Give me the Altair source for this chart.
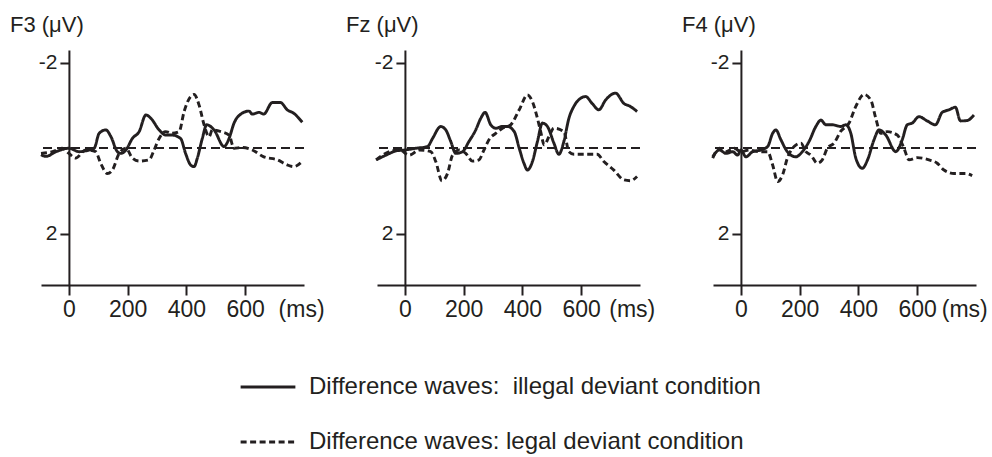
import altair as alt
import pandas as pd

INK = "#231f20"
FONT = "Liberation Sans"

panels = ["F3", "Fz", "F4"]
titles = ["F3 (μV)", "Fz (μV)", "F4 (μV)"]
conds = ["Difference waves:\u00a0 illegal deviant condition",
         "Difference waves: legal deviant condition"]

# F3
f3_ill_t = [-95, -78, -44, 0, 35, 69, 86, 103, 126, 143, 165, 177, 194, 216, 239, 262, 279, 307, 329, 350,
            380, 397, 414, 426, 437, 454, 469, 494, 528, 545, 562, 585, 613, 624, 647, 663, 692, 720, 743, 765, 794]
f3_ill_v = [0.15, 0.19, 0.08, 0, 0.08, 0.04, 0, -0.35, -0.43, -0.27, 0.08, 0.12, 0.04, -0.23, -0.39, -0.78, -0.70,
            -0.43, -0.31, -0.31, -0.23, 0.12, 0.39, 0.43, 0.23, -0.23, -0.55, -0.43, -0.04, -0.23, -0.59, -0.80,
            -0.87, -0.80, -0.84, -0.80, -1.07, -1.07, -0.90, -0.82, -0.61]
f3_leg_t = [-95, -56, -23, 0, 23, 57, 91, 108, 131, 148, 171, 194, 216, 239, 273, 290, 307, 329, 350, 375, 392,
            414, 426, 443, 460, 477, 488, 517, 545, 562, 590, 624, 663, 709, 743, 765, 794]
f3_leg_v = [0.12, 0.08, 0, 0.12, 0.23, 0.04, 0.08, 0.35, 0.59, 0.51, 0.12, 0, 0.23, 0.30, 0.27, 0.04, -0.23,
            -0.39, -0.35, -0.39, -0.86, -1.21, -1.26, -1.01, -0.55, -0.27, -0.43, -0.39, -0.31, 0, -0.02, 0.04,
            0.20, 0.27, 0.39, 0.43, 0.31]
# Fz
fz_ill_t = [-98, -64, -30, 0, 37, 77, 94, 122, 139, 156, 173, 196, 218, 241, 258, 273, 292, 309, 332, 349, 372,
            389, 405, 417, 434, 451, 468, 485, 507, 524, 541, 558, 575, 598, 615, 637, 660, 683, 717, 745, 767, 790]
fz_ill_v = [0.27, 0.16, 0.06, 0.04, 0, -0.04, -0.23, -0.51, -0.43, -0.16, 0.12, 0.08, -0.16, -0.43, -0.70, -0.84,
            -0.55, -0.47, -0.51, -0.51, -0.39, 0, 0.35, 0.51, 0.31, -0.16, -0.59, -0.51, -0.12, 0.14, -0.16, -0.70,
            -0.98, -1.17, -1.21, -1.05, -0.90, -1.13, -1.29, -1.05, -0.98, -0.86]
fz_leg_t = [-98, -53, -19, 15, 49, 88, 105, 126, 145, 162, 184, 207, 230, 252, 269, 286, 309, 332, 360, 389, 417,
            434, 451, 462, 474, 490, 507, 541, 558, 575, 620, 654, 677, 711, 745, 767, 790]
fz_leg_v = [0.27, 0.08, 0.04, 0.16, 0.04, 0.08, 0.31, 0.76, 0.59, 0.16, 0.04, 0.12, 0.30, 0.27, 0.04, -0.20,
            -0.35, -0.47, -0.55, -0.90, -1.25, -1.09, -0.70, -0.39, -0.08, -0.27, -0.47, -0.39, 0.08, 0.14, 0.14,
            0.14, 0.31, 0.51, 0.74, 0.76, 0.66]
# F4
f4_ill_t = [-96, -73, -51, -28, -11, 0, 17, 40, 68, 91, 108, 119, 136, 158, 187, 209, 232, 255, 272, 289, 311,
            340, 357, 374, 391, 413, 431, 453, 470, 493, 527, 549, 566, 583, 606, 634, 662, 685, 708, 730, 747,
            770, 793]
f4_ill_v = [0.20, 0.04, 0.12, 0.08, 0.16, 0.04, 0.20, 0.08, 0.04, -0.04, -0.35, -0.43, -0.20, 0.08, 0.20, 0.08,
            -0.16, -0.51, -0.66, -0.55, -0.55, -0.51, -0.55, -0.35, 0.23, 0.47, 0.27, -0.20, -0.43, -0.31, 0.08,
            -0.20, -0.55, -0.59, -0.74, -0.64, -0.55, -0.84, -0.90, -0.96, -0.64, -0.65, -0.78]
f4_leg_t = [-96, -73, -51, -23, 0, 28, 62, 91, 108, 125, 142, 158, 181, 204, 221, 238, 260, 277, 294, 317, 340,
            368, 391, 419, 442, 459, 476, 498, 532, 555, 572, 600, 640, 668, 691, 725, 765, 787]
f4_leg_v = [0.23, 0, 0.08, 0, 0.08, 0.04, 0.08, 0.08, 0.39, 0.78, 0.62, 0.23, -0.04, -0.12, 0.08, 0.16, 0.35,
            0.27, 0, -0.12, -0.40, -0.59, -0.98, -1.26, -1.13, -0.70, -0.35, -0.39, -0.31, 0, 0.27, 0.22, 0.27,
            0.35, 0.51, 0.59, 0.59, 0.64]

x_ticks = [0, 200, 400, 600]
ms_label_pos = {"F3": 790, "Fz": 772, "F4": 760}
y_ticks = [-2, 2]
x_domain = [-95, 800]
y_domain = [-2.3, 3.2]

series = {
    "F3": (f3_ill_t, f3_ill_v, f3_leg_t, f3_leg_v),
    "Fz": (fz_ill_t, fz_ill_v, fz_leg_t, fz_leg_v),
    "F4": (f4_ill_t, f4_ill_v, f4_leg_t, f4_leg_v),
}
rows = []
for p, (it, iv, lt, lv) in series.items():
    for t, v in zip(it, iv):
        rows.append({"panel": p, "cond": conds[0], "t": t, "v": v})
    for t, v in zip(lt, lv):
        rows.append({"panel": p, "cond": conds[1], "t": t, "v": v})
df = pd.DataFrame(rows)

W, H = 263, 235
y_axis_offset = -(0 - x_domain[0]) / (x_domain[1] - x_domain[0]) * W


def make_panel(name, title):
    base = alt.Chart(df).transform_filter(alt.datum.panel == name)
    xvals = x_ticks + [ms_label_pos[name]]
    x_enc = alt.X(
        "t:Q",
        scale=alt.Scale(domain=x_domain, nice=False, zero=False),
        axis=alt.Axis(values=xvals, title=None, grid=False,
                      labelExpr="datum.value > 700 ? '(ms)' : datum.label",
                      labelFlush=False, labelFontSize=23, labelPadding=3,
                      tickSize=10, tickWidth=2, domainWidth=2,
                      tickOpacity={"condition": {"test": "datum.value > 700", "value": 0}, "value": 1}),
    )
    y_enc = alt.Y(
        "v:Q",
        scale=alt.Scale(domain=y_domain, reverse=True, nice=False, zero=False),
        axis=alt.Axis(values=y_ticks, title=None, grid=False, offset=y_axis_offset,
                      labelExpr="(datum.value < 0 ? '-' : '') + abs(datum.value)",
                      labelFontSize=21, labelPadding=3, tickSize=9, tickWidth=2, domainWidth=2),
    )
    lines = base.mark_line(interpolate="monotone", strokeWidth=2.9, color=INK).encode(
        x=x_enc,
        y=y_enc,
        strokeDash=alt.StrokeDash(
            "cond:N",
            scale=alt.Scale(domain=conds, range=[[1, 0], [6, 3.5]]),
            legend=alt.Legend(title=None, orient="none", legendX=198, legendY=308,
                              direction="vertical", symbolType="stroke", symbolSize=3000,
                              symbolStrokeWidth=3, symbolStrokeColor=INK,
                              labelFontSize=24, labelColor=INK, labelFont=FONT,
                              labelOffset=12, rowPadding=14, labelLimit=0),
        ),
    )
    zero = base.mark_rule(strokeDash=[9, 5], strokeWidth=1.7, color=INK).encode(y=alt.datum(0))
    return alt.layer(zero, lines).properties(
        width=W, height=H,
        title=alt.TitleParams(text=title, anchor="start", frame="group", dx=-31, fontSize=22,
                              fontWeight="normal", color=INK, font=FONT, baseline="alphabetic", offset=-4),
    )


chart = alt.hconcat(*[make_panel(p, t) for p, t in zip(panels, titles)], spacing=73, bounds="flush")
chart = chart.resolve_scale(strokeDash="shared").properties(
    padding={"left": 10, "top": 14, "right": 0, "bottom": 0}
).configure(font=FONT).configure_view(stroke=None).configure_axis(
    domainColor=INK, tickColor=INK, labelColor=INK, labelFont=FONT
)

chart.save("out.html", embed_options={"renderer": "svg", "actions": False})
